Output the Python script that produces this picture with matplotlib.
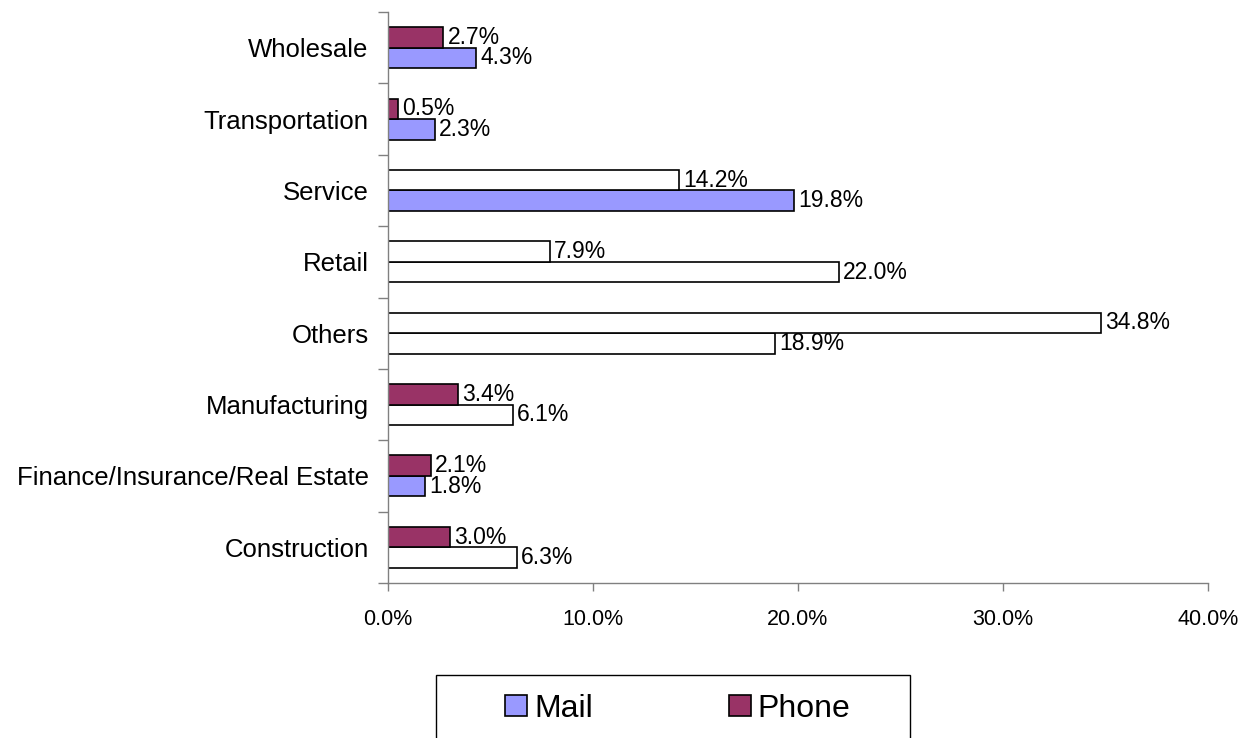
import numpy as np
import matplotlib
matplotlib.use('Agg')
import matplotlib.pyplot as plt
from matplotlib.patches import Rectangle, Patch
from matplotlib.ticker import FixedLocator, FuncFormatter

# dados (de baixo para cima)
categorias = ['Construction', 'Finance/Insurance/Real Estate', 'Manufacturing', 'Others',
              'Retail', 'Service', 'Transportation', 'Wholesale']
mail = [6.3, 1.8, 6.1, 18.9, 22.0, 19.8, 2.3, 4.3]
phone = [3.0, 2.1, 3.4, 34.8, 7.9, 14.2, 0.5, 2.7]
xticks = [0, 10, 20, 30, 40]

# cores (algumas barras aparecem sem preenchimento no original)
cor_mail = '#9999FF'
cor_phone = '#993366'
mail_preenchido = [False, True, False, False, False, True, True, True]
phone_preenchido = [True, True, True, False, False, False, True, True]

plt.rcParams['font.family'] = ['Liberation Sans', 'DejaVu Sans']

W, H = 1248, 738
fig = plt.figure(figsize=(W / 100, H / 100), dpi=100)
ax = fig.add_axes([388 / W, (H - 583) / H, (1208 - 388) / W, (583 - 12) / H])

y = np.arange(len(categorias))
altura = 0.287

cores_mail = [cor_mail if p else 'white' for p in mail_preenchido]
cores_phone = [cor_phone if p else 'white' for p in phone_preenchido]

ax.barh(y - altura / 2, mail, height=altura, color=cores_mail, edgecolor='black', linewidth=1.2)
ax.barh(y + altura / 2, phone, height=altura, color=cores_phone, edgecolor='black', linewidth=1.2)

for i in range(len(categorias)):
    ax.text(mail[i] + 0.2, y[i] - altura / 2, f'{mail[i]:.1f}%', va='center', ha='left', fontsize=16.5)
    ax.text(phone[i] + 0.2, y[i] + altura / 2, f'{phone[i]:.1f}%', va='center', ha='left', fontsize=16.5)

ax.set_xlim(0, 40)
ax.set_ylim(-0.5, len(categorias) - 0.5)

ax.set_xticks(xticks)
ax.xaxis.set_major_formatter(FuncFormatter(lambda v, p: f'{v:.1f}%'))
ax.tick_params(axis='x', direction='out', length=6, width=1, color='#808080', pad=13, labelsize=15.5)

ax.set_yticks(y)
ax.set_yticklabels(categorias, fontsize=18.5)
ax.yaxis.set_minor_locator(FixedLocator(np.arange(-0.5, len(categorias), 1.0)))
ax.tick_params(axis='y', which='major', length=0, pad=14)
ax.tick_params(axis='y', which='minor', direction='out', length=7, width=1, color='#808080')

for lado in ['top', 'right']:
    ax.spines[lado].set_visible(False)
for lado in ['left', 'bottom']:
    ax.spines[lado].set_color('#808080')
    ax.spines[lado].set_linewidth(1)

# legenda com moldura desenhada à parte
fig.patches.append(Rectangle((436 / W, -0.05), (910 - 436) / W, (H - 675) / H + 0.05,
                             transform=fig.transFigure, facecolor='white',
                             edgecolor='black', linewidth=1, zorder=0))
handles = [Patch(facecolor=cor_mail, edgecolor='black', linewidth=1.2, label='Mail'),
           Patch(facecolor=cor_phone, edgecolor='black', linewidth=1.2, label='Phone')]
fig.legend(handles=handles, loc='center left', bbox_to_anchor=(505 / W, 1 - 709 / H),
           ncol=2, frameon=False, fontsize=23, handlelength=0.69, handleheight=0.65,
           handletextpad=0.22, columnspacing=4.25, borderpad=0, borderaxespad=0)

fig.savefig('out.png', dpi=100)
